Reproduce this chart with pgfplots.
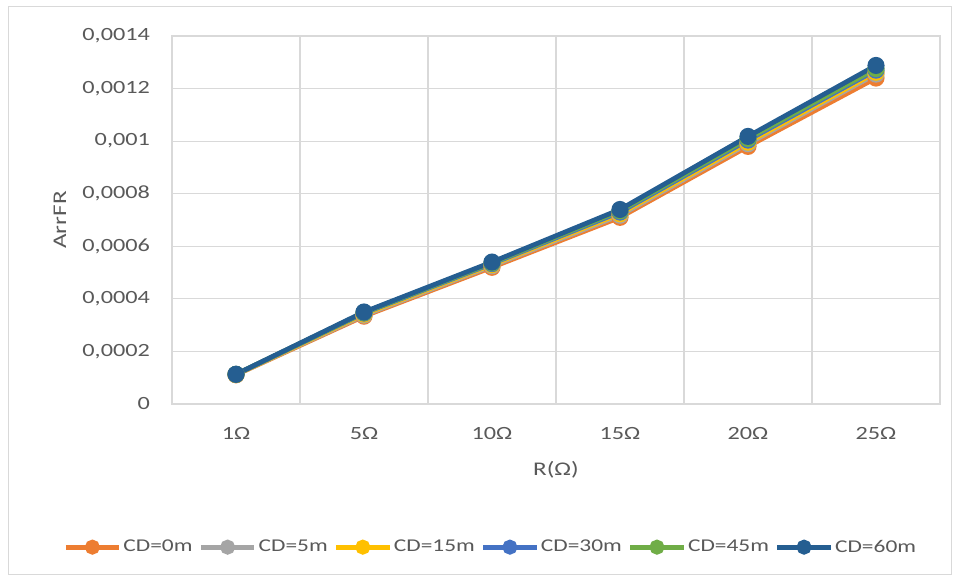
\documentclass[border=0pt]{standalone}
\usepackage{fontspec}
\setmainfont{Carlito}[FakeStretch=1.3]
\usepackage{pgfplots}
\pgfplotsset{compat=1.18}
\definecolor{cOr}{HTML}{ED7D31}
\definecolor{cGr}{HTML}{A5A5A5}
\definecolor{cYe}{HTML}{FFC000}
\definecolor{cBl}{HTML}{4472C4}
\definecolor{cGn}{HTML}{70AD47}
\definecolor{cDb}{HTML}{255E91}
\definecolor{gridc}{HTML}{D9D9D9}
\definecolor{txtc}{HTML}{595959}
\begin{document}
\begin{tikzpicture}[x=0.75pt,y=0.75pt]
\useasboundingbox (0,0) rectangle (958,581);
\draw[gridc, line width=0.75pt] (8,6) rectangle (951,574);
\begin{axis}[
  at={(129pt,132.75pt)}, anchor=south west,
  scale only axis, width=576pt, height=276pt,
  xmin=-0.5, xmax=5.5, ymin=0, ymax=0.0014,
  xtick={0,1,2,3,4,5},
  xticklabels={1Ω,5Ω,10Ω,15Ω,20Ω,25Ω},
  minor xtick={-0.5,0.5,1.5,2.5,3.5,4.5,5.5},
  ytick={0,0.0002,0.0004,0.0006,0.0008,0.001,0.0012,0.0014},
  scaled y ticks=false,
  yticklabel style={/pgf/number format/fixed, /pgf/number format/use comma, /pgf/number format/precision=4, /pgf/number format/assume math mode=true},
  ymajorgrids, xminorgrids,
  grid style={gridc, line width=0.9pt},
  minor grid style={gridc, line width=0.9pt},
  axis line style={gridc, line width=0.9pt},
  major tick length=0pt, minor tick length=0pt,
  tick label style={font=\fontsize{14}{16}\selectfont, text=txtc},
  xticklabel style={yshift=-14pt},
  yticklabel style={xshift=-13pt},
  xlabel={R(Ω)}, ylabel={ArrFR},
  label style={font=\fontsize{14.5}{16}\selectfont, text=txtc},
  xlabel style={at={(axis description cs:0.5,-0.179)}, anchor=center},
  ylabel style={at={(axis description cs:-0.146,0.5)}, anchor=center},
  every axis plot/.append style={line width=3.6pt, mark=*, mark size=4.6pt},
  legend columns=6,
  legend style={at={(axis description cs:0.415,-0.389)}, anchor=center, draw=none, fill=none,
    font=\fontsize{13.5}{15}\selectfont, text=txtc,
    /tikz/every even column/.append style={column sep=3pt},
    /tikz/every odd column/.append style={column sep=0pt},
    nodes={inner xsep=1.5pt}},
  legend image code/.code={\draw[mark repeat=2, mark phase=2, #1, mark size=3.8pt] plot coordinates {(0pt,0pt) (20pt,0pt) (40pt,0pt)};},
]
\addplot[color=cOr] coordinates {(0,0.000111) (1,0.000334) (2,0.000520) (3,0.000710) (4,0.000980) (5,0.001240)};
\addlegendentry{CD=0m}
\addplot[color=cGr] coordinates {(0,0.000112) (1,0.000338) (2,0.000526) (3,0.000718) (4,0.000990) (5,0.001255)};
\addlegendentry{CD=5m}
\addplot[color=cYe] coordinates {(0,0.000112) (1,0.000342) (2,0.000530) (3,0.000724) (4,0.000996) (5,0.001262)};
\addlegendentry{CD=15m}
\addplot[color=cBl] coordinates {(0,0.000113) (1,0.000346) (2,0.000534) (3,0.000730) (4,0.001004) (5,0.001270)};
\addlegendentry{CD=30m}
\addplot[color=cGn] coordinates {(0,0.000113) (1,0.000348) (2,0.000537) (3,0.000735) (4,0.001010) (5,0.001276)};
\addlegendentry{CD=45m}
\addplot[color=cDb] coordinates {(0,0.000113) (1,0.000350) (2,0.000540) (3,0.000740) (4,0.001018) (5,0.001288)};
\addlegendentry{CD=60m}
\end{axis}
\end{tikzpicture}
\end{document}
